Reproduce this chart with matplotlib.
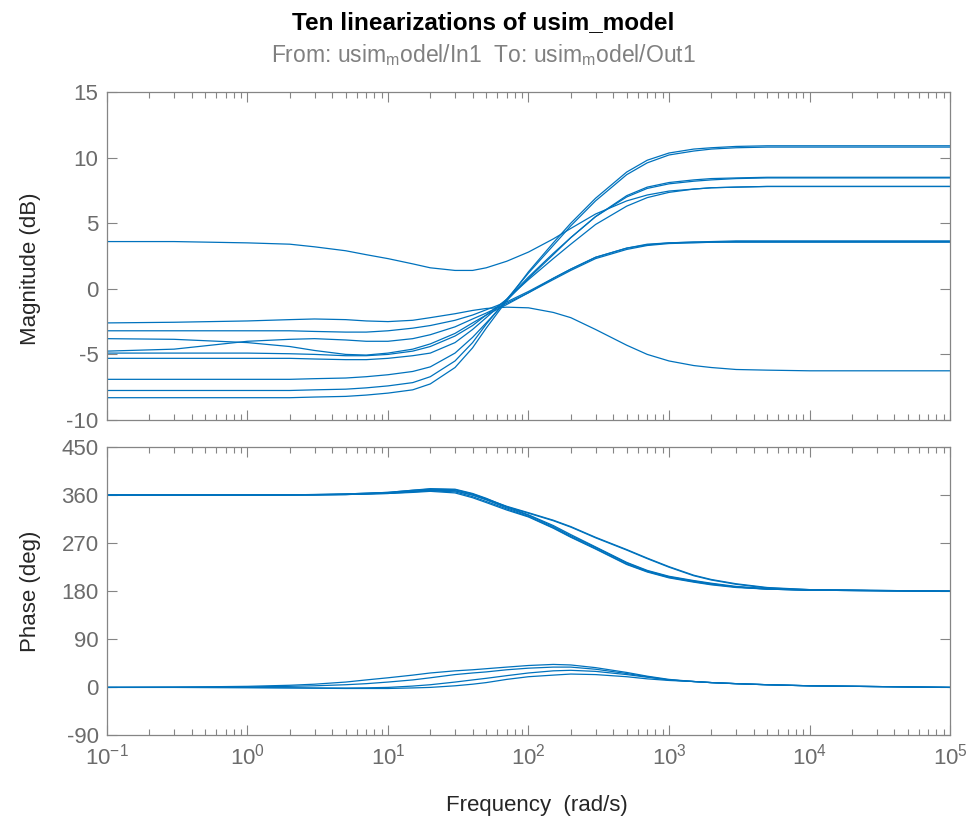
import matplotlib
matplotlib.use('Agg')
import matplotlib.pyplot as plt
from matplotlib.ticker import FixedLocator, LogLocator, NullFormatter

plt.rcParams['font.family'] = ['Liberation Sans', 'DejaVu Sans']
plt.rcParams['mathtext.fontset'] = 'custom'
plt.rcParams['mathtext.rm'] = 'Liberation Sans'
plt.rcParams['mathtext.it'] = 'Liberation Sans:italic'
plt.rcParams['mathtext.bf'] = 'Liberation Sans:bold'
plt.rcParams['axes.unicode_minus'] = False

w = [0.1, 0.3, 1, 2, 3, 5, 7, 10, 15, 20, 30, 40, 50, 70, 100, 150, 200, 300, 500,
     700, 1000, 1500, 2000, 3000, 5000, 1e4, 1e5]

# magnitude (dB), one list per linearization
mag_1 = [3.6, 3.6, 3.5, 3.4, 3.2, 2.9, 2.6, 2.3, 1.9, 1.6, 1.4, 1.4, 1.6, 2.1, 2.8, 3.8,
         4.6, 5.7, 6.7, 7.15, 7.45, 7.6, 7.7, 7.75, 7.8, 7.8, 7.8]
mag_2 = [-2.6, -2.55, -2.45, -2.35, -2.3, -2.35, -2.45, -2.5, -2.4, -2.2, -1.9, -1.65, -1.5,
         -1.4, -1.45, -1.8, -2.2, -3.1, -4.3, -5.0, -5.5, -5.85, -6.0, -6.15, -6.2, -6.25, -6.25]
mag_3 = [-8.3, -8.3, -8.3, -8.3, -8.25, -8.2, -8.1, -7.95, -7.7, -7.25, -6.0, -4.5, -3.0,
         -0.9, 1.3, 3.5, 5.0, 6.9, 8.9, 9.8, 10.35, 10.65, 10.75, 10.85, 10.9, 10.9, 10.9]
mag_4 = [-7.75, -7.75, -7.75, -7.75, -7.7, -7.65, -7.55, -7.4, -7.15, -6.7, -5.5, -4.1, -2.7,
         -0.8, 1.2, 3.3, 4.8, 6.7, 8.7, 9.6, 10.2, 10.5, 10.65, 10.75, 10.8, 10.8, 10.8]
mag_5 = [-6.9, -6.9, -6.9, -6.9, -6.85, -6.8, -6.7, -6.55, -6.3, -5.95, -4.9, -3.7, -2.6,
         -0.9, 0.8, 2.6, 3.9, 5.5, 7.1, 7.75, 8.1, 8.3, 8.4, 8.45, 8.5, 8.5, 8.5]
mag_6 = [-5.3, -5.3, -5.3, -5.3, -5.35, -5.4, -5.4, -5.3, -5.1, -4.9, -4.1, -3.1, -2.2,
         -0.8, 0.9, 2.7, 3.9, 5.5, 7.0, 7.65, 8.0, 8.2, 8.3, 8.4, 8.45, 8.45, 8.45]
mag_7 = [-4.9, -4.9, -4.9, -4.95, -5.0, -5.1, -5.1, -5.0, -4.75, -4.4, -3.6, -2.8, -2.0,
         -0.8, 0.7, 2.3, 3.4, 4.9, 6.3, 6.95, 7.35, 7.6, 7.7, 7.75, 7.8, 7.8, 7.8]
mag_8 = [-4.75, -4.6, -4.0, -3.85, -3.8, -3.9, -4.0, -4.0, -3.8, -3.5, -2.9, -2.3, -1.85,
         -1.1, -0.3, 0.7, 1.4, 2.3, 3.0, 3.3, 3.45, 3.5, 3.55, 3.55, 3.55, 3.55, 3.55]
mag_9 = [-3.8, -3.85, -4.1, -4.4, -4.7, -5.0, -5.05, -4.9, -4.6, -4.2, -3.4, -2.6, -2.0,
         -1.2, -0.3, 0.8, 1.5, 2.4, 3.1, 3.35, 3.5, 3.55, 3.55, 3.6, 3.6, 3.6, 3.6]
mag_10 = [-3.2, -3.2, -3.2, -3.2, -3.25, -3.3, -3.3, -3.2, -3.0, -2.8, -2.4, -2.0, -1.6,
          -1.0, -0.2, 0.8, 1.5, 2.4, 3.1, 3.4, 3.5, 3.57, 3.6, 3.65, 3.65, 3.65, 3.65]

# phase (deg), same order
ph_1 = [360, 360, 360, 360.5, 361, 362, 363.5, 365, 369, 372, 371, 363, 354, 338, 323, 303,
        286, 263, 234, 219, 208, 200, 195, 189, 185, 182, 180]
ph_2 = [0, 0, -0.5, -1, -1.5, -2, -2, -2, -1, 0, 3, 6, 9, 15, 20, 23, 25, 24, 20, 16, 13,
        11, 9, 7, 5, 3, 0]
ph_3 = [360, 360, 360, 360.2, 360.5, 361, 362, 363, 366, 368, 366, 357, 348, 334, 320, 299,
        282, 260, 231, 217, 206, 198, 193, 188, 184, 182, 180]
ph_4 = [360, 360, 360, 360.2, 360.5, 361.5, 362.5, 364, 367, 370, 368, 360, 351, 336, 322,
        301, 284, 262, 233, 218, 207, 199, 194, 188, 184, 182, 180]
ph_5 = [360, 360, 360, 360.5, 361, 362, 363.5, 365, 369, 371, 370, 362, 353, 339, 327, 313,
        301, 281, 258, 242, 226, 210, 202, 194, 187, 183, 180]
ph_6 = [360, 360, 360, 360.3, 360.5, 361, 362.5, 364, 367, 369, 368, 360, 352, 338, 326,
        312, 300, 280, 257, 241, 225, 209, 201, 193, 186, 183, 180]
ph_7 = [360, 360, 360, 360.2, 360.5, 361, 362, 363, 365, 367, 364, 355, 346, 332, 319, 298,
        281, 259, 230, 216, 205, 197, 192, 187, 184, 182, 180]
ph_8 = [0, 0.5, 2, 4, 6, 10, 14, 18, 23, 27, 31, 33, 35, 38, 41, 43, 42, 37, 28, 21, 15,
        11, 9, 7, 5, 3, 0]
ph_9 = [0, 0.3, 1, 2, 3, 5, 7, 10, 14, 18, 24, 27, 29, 33, 36, 38, 38, 34, 26, 20, 14,
        11, 9, 7, 5, 3, 0]
ph_10 = [0, 0, -0.3, -0.7, -1, -1.2, -0.8, 0, 2.5, 5, 10, 14, 17, 22, 27, 31, 32, 30, 24,
         19, 14, 11, 9, 7, 5, 3, 0]

mags = [mag_1, mag_2, mag_3, mag_4, mag_5, mag_6, mag_7, mag_8, mag_9, mag_10]
phases = [ph_1, ph_2, ph_3, ph_4, ph_5, ph_6, ph_7, ph_8, ph_9, ph_10]

x_ticks = [0.1, 1, 10, 100, 1000, 1e4, 1e5]
x_labels = ['10$^{-1}$', '10$^{0}$', '10$^{1}$', '10$^{2}$', '10$^{3}$', '10$^{4}$', '10$^{5}$']
mag_ticks = [-10, -5, 0, 5, 10, 15]
ph_ticks = [-90, 0, 90, 180, 270, 360, 450]

blue = '#0072BD'
axcol = '#858585'
tickcol = '#6b6b6b'
labcol = '#262626'
fs = 16

fig = plt.figure(figsize=(9.75, 8.25), dpi=100)
ax1 = fig.add_axes([0.1097, 0.4909, 0.8647, 0.3976])
ax2 = fig.add_axes([0.1097, 0.1085, 0.8647, 0.3497])

for m in mags:
    ax1.plot(w, m, color=blue, lw=0.9)
for p in phases:
    ax2.plot(w, p, color=blue, lw=0.9)

for ax in (ax1, ax2):
    ax.set_xscale('log')
    ax.set_xlim(0.1, 1e5)
    ax.xaxis.set_major_locator(FixedLocator(x_ticks))
    ax.xaxis.set_minor_locator(LogLocator(base=10, subs=range(2, 10), numticks=20))
    ax.xaxis.set_minor_formatter(NullFormatter())
    ax.tick_params(which='both', direction='in', top=True, right=True,
                   color=axcol, labelcolor=tickcol, labelsize=fs, width=0.8)
    ax.tick_params(which='major', length=7, pad=6)
    ax.tick_params(which='minor', length=4)
    for s in ax.spines.values():
        s.set_color(axcol)
        s.set_linewidth(0.9)

ax1.set_ylim(-10, 15)
ax1.set_yticks(mag_ticks)
ax1.set_xticklabels([])
ax1.set_ylabel('Magnitude (dB)', fontsize=fs, color=labcol)

ax2.set_ylim(-90, 450)
ax2.set_yticks(ph_ticks)
ax2.set_xticklabels(x_labels)
ax2.set_ylabel('Phase (deg)', fontsize=fs, color=labcol)

ax1.yaxis.set_label_coords(-0.078, 0.46)
ax2.yaxis.set_label_coords(-0.078, 0.5)

fig.text(0.4954, 1 - 23 / 825, 'Ten linearizations of usim_model', ha='center', va='center',
         fontsize=17.5, fontweight='bold', color='black')
fig.text(0.4954, 1 - 55 / 825,
         r'From: usim$_{\mathregular{m}}$odel/In1  To: usim$_{\mathregular{m}}$odel/Out1',
         ha='center', va='center', fontsize=16.5, color='#808080')
fig.text(0.551, 1 - 805 / 825, 'Frequency  (rad/s)', ha='center', va='center',
         fontsize=fs, color=labcol)

fig.savefig('out.png', dpi=100)
